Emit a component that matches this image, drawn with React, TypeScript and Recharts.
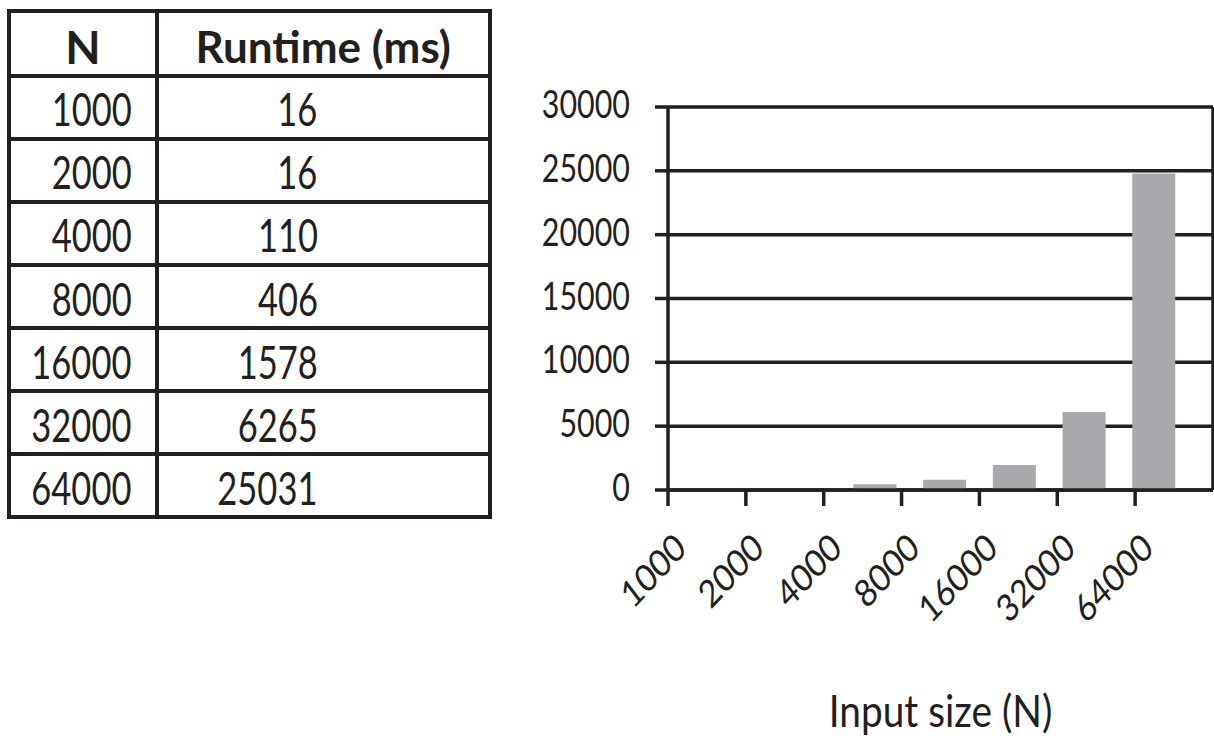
import React from 'react';
import { BarChart, Bar, XAxis, YAxis, CartesianGrid, ReferenceLine, Label } from 'recharts';

// ---- data ----
const categories = ['1000', '2000', '4000', '8000', '16000', '32000', '64000'];
const tableRuntimeMs = [16, 16, 110, 406, 1578, 6265, 25031];
const barValues = [16, 16, 450, 810, 1960, 6100, 24800];
const yTicks = [0, 5000, 10000, 15000, 20000, 25000, 30000];
const tickPositions = [0, 1, 2, 3, 4, 5, 6];
const tickDomainEnd = 7;
const xTitle = 'Input size (N)';
const tableHeaders = ['N', 'Runtime (ms)'];

const data = categories.map((n, i) => ({ n, pos: tickPositions[i], ms: barValues[i] }));

const FONT = "Lato, 'Open Sans', sans-serif";
const INK = '#231f20';
const BAR = '#a7a9ac';
const LINE_W = 3.5;
const SX = 0.78;

const XTick = (props: any) => {
  const { x, y, payload } = props;
  const ax = x + 20;
  const ay = y + 45;
  return (
    <text
      transform={`translate(${ax} ${ay}) scale(0.84 1) rotate(-42)`}
      x={0}
      y={0}
      textAnchor="end"
      fontFamily={FONT}
      fontSize={38}
      fill={INK}
    >
      {categories[payload.value]}
    </text>
  );
};

const YTick = (props: any) => {
  const { x, y, payload } = props;
  return (
    <text
      transform={`translate(${x} ${y + 11}) scale(${SX} 1)`}
      x={0}
      y={0}
      textAnchor="end"
      fontFamily={FONT}
      fontSize={39}
      fill={INK}
    >
      {payload.value}
    </text>
  );
};

const AxisTitle = (props: any) => {
  const vb = props.viewBox || {};
  const cx = vb.x + vb.width / 2;
  const by = vb.y + vb.height - 11;
  return (
    <text transform={`translate(${cx} ${by}) scale(0.87 1)`} x={0} y={0} textAnchor="middle" fontFamily={FONT} fontSize={44.6} fill={INK}>
      {xTitle}
    </text>
  );
};

const COL1 = 147.5;
const HEADER_H = 60.5;
const ROW_H = 59.1;

const Sq = ({ children }: { children: any }) => (
  <span style={{ display: 'inline-block', transform: 'scaleX(0.75)', transformOrigin: 'right center', position: 'relative', top: 1.5, whiteSpace: 'nowrap' }}>
    {children}
  </span>
);

const Table = () => (
  <div
    style={{
      position: 'absolute',
      left: 7.3,
      top: 9.3,
      width: 484.4,
      border: `4px solid ${INK}`,
      boxSizing: 'border-box',
      fontFamily: FONT,
      color: INK,
      background: '#fff',
    }}
  >
    <div style={{ display: 'flex', height: HEADER_H, fontWeight: 700, fontSize: 44 }}>
      <div style={{ width: COL1, boxSizing: 'border-box', borderRight: `4px solid ${INK}`, textAlign: 'center', lineHeight: `${HEADER_H}px` }}>
        <span style={{ position: 'relative', top: 4, fontSize: 46 }}>{tableHeaders[0]}</span>
      </div>
      <div style={{ flex: 1, textAlign: 'center', lineHeight: `${HEADER_H}px`, whiteSpace: 'nowrap' }}>
        <span style={{ position: 'relative', top: 3 }}>{tableHeaders[1]}</span>
      </div>
    </div>
    {categories.map((n, i) => (
      <div key={n} style={{ display: 'flex', height: ROW_H, borderTop: `4px solid ${INK}`, fontSize: 46 }}>
        <div
          style={{
            width: COL1,
            flex: 'none',
            boxSizing: 'border-box',
            borderRight: `4px solid ${INK}`,
            display: 'flex',
            justifyContent: 'flex-end',
            alignItems: 'center',
            paddingRight: 23,
            lineHeight: `${ROW_H}px`,
          }}
        >
          <Sq>{n}</Sq>
        </div>
        <div
          style={{
            flex: 1,
            boxSizing: 'border-box',
            display: 'flex',
            justifyContent: 'flex-end',
            alignItems: 'center',
            paddingRight: 170,
            lineHeight: `${ROW_H}px`,
          }}
        >
          <Sq>{tableRuntimeMs[i]}</Sq>
        </div>
      </div>
    ))}
  </div>
);

export default function App() {
  return (
    <div style={{ position: 'absolute', left: 0, top: 0, width: 1214, height: 738, background: '#fff', overflow: 'hidden' }}>
      <Table />
      <div style={{ position: 'absolute', left: 500, top: 0 }}>
        <BarChart width={714} height={738} data={data} margin={{ top: 107, right: 1, left: 0, bottom: 0 }}>
          <CartesianGrid xAxisId="t" horizontal vertical={false} stroke={INK} strokeWidth={LINE_W} />
          <XAxis
            xAxisId="t"
            dataKey="pos"
            type="number"
            domain={[0, tickDomainEnd]}
            ticks={tickPositions}
            allowDataOverflow
            height={248}
            tickSize={16}
            tickMargin={0}
            tick={<XTick />}
            tickLine={{ stroke: INK, strokeWidth: LINE_W }}
            axisLine={{ stroke: INK, strokeWidth: LINE_W }}
            interval={0}
          >
            <Label content={<AxisTitle />} position="insideBottom" />
          </XAxis>
          <XAxis xAxisId="b" dataKey="n" type="category" hide height={0} padding={{ left: 33, right: 24 }} />
          <YAxis
            domain={[0, 30000]}
            ticks={yTicks}
            width={168}
            tickSize={13}
            tickMargin={25}
            tick={<YTick />}
            tickLine={{ stroke: INK, strokeWidth: LINE_W }}
            axisLine={{ stroke: INK, strokeWidth: LINE_W }}
            interval={0}
          />
          <Bar xAxisId="b" dataKey="ms" fill={BAR} barSize={43} isAnimationActive={false} />
          <ReferenceLine xAxisId="t" x={tickDomainEnd} stroke={INK} strokeWidth={LINE_W} />
        </BarChart>
      </div>
    </div>
  );
}
